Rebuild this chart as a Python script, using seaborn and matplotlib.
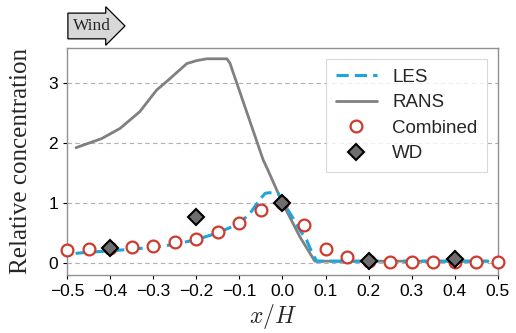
import numpy as np
import pandas as pd
import matplotlib
matplotlib.use("Agg")
import matplotlib.pyplot as plt
import seaborn as sns

# ---- data ----
les_x = [-0.48, -0.45, -0.40, -0.35, -0.30, -0.25, -0.20, -0.15, -0.10, -0.075, -0.05,
         -0.04, -0.03, -0.01, 0.00, 0.02, 0.04, 0.056, 0.071, 0.08, 0.10, 0.20, 0.30, 0.40, 0.48]
les_y = [0.16, 0.18, 0.20, 0.23, 0.26, 0.31, 0.39, 0.50, 0.66, 0.83, 1.08,
         1.16, 1.17, 1.16, 1.02, 0.80, 0.55, 0.38, 0.13, 0.03, 0.03, 0.03, 0.03, 0.03, 0.03]

rans_x = [-0.479, -0.42, -0.377, -0.331, -0.292, -0.269, -0.222, -0.199, -0.176, -0.129,
          -0.122, -0.045, -0.034, 0.00, 0.04, 0.075, 0.20, 0.30, 0.40, 0.477]
rans_y = [1.92, 2.07, 2.24, 2.52, 2.88, 3.02, 3.32, 3.37, 3.40, 3.40,
          3.33, 1.72, 1.55, 1.00, 0.44, 0.03, 0.03, 0.03, 0.03, 0.03]

comb_x = [-0.50, -0.45, -0.40, -0.35, -0.30, -0.25, -0.20, -0.15, -0.10, -0.05, 0.00,
          0.05, 0.10, 0.15, 0.20, 0.25, 0.30, 0.35, 0.40, 0.45, 0.50]
comb_y = [0.22, 0.23, 0.25, 0.26, 0.29, 0.35, 0.40, 0.51, 0.66, 0.88, 1.00,
          0.64, 0.23, 0.10, 0.03, 0.01, 0.01, 0.01, 0.01, 0.01, 0.01]

wd_x = [-0.4, -0.2, 0.0, 0.2, 0.4]
wd_y = [0.25, 0.77, 1.00, 0.04, 0.07]

xticks = [-0.5, -0.4, -0.3, -0.2, -0.1, 0.0, 0.1, 0.2, 0.3, 0.4, 0.5]
yticks = [0, 1, 2, 3]

# ---- style ----
sns.set_style("ticks")
plt.rcParams["font.family"] = ["Liberation Sans", "DejaVu Sans"]
plt.rcParams["mathtext.fontset"] = "cm"

fig = plt.figure(figsize=(5.16, 3.33), dpi=100)
ax = fig.add_axes([0.1298, 0.1742, 0.9651 - 0.1298, 0.8559 - 0.1742])

les_df = pd.DataFrame({"x": les_x, "y": les_y})
rans_df = pd.DataFrame({"x": rans_x, "y": rans_y})
comb_df = pd.DataFrame({"x": comb_x, "y": comb_y})
wd_df = pd.DataFrame({"x": wd_x, "y": wd_y})

sns.lineplot(data=les_df, x="x", y="y", ax=ax, color="#1ea6dc", lw=2.2,
             linestyle=(0, (4, 2)), label="LES", zorder=3, sort=False)
sns.lineplot(data=rans_df, x="x", y="y", ax=ax, color="#808080", lw=2.0,
             label="RANS", zorder=2, sort=False)
ax.plot(comb_df["x"], comb_df["y"], ls="none", marker="o", ms=8.5, mfc="white",
        mec="#cc3b2e", mew=1.6, label="Combined", zorder=4, clip_on=False)
ax.plot(wd_df["x"], wd_df["y"], ls="none", marker="D", ms=8, mfc="#6e6e6e",
        mec="black", mew=1.5, label="WD", zorder=5)

ax.set_xlim(-0.5, 0.5)
ax.set_ylim(-0.2, 3.58)
ax.set_xticks(xticks)
ax.set_xticklabels([f"{t:.1f}".replace("-", "\u2212") for t in xticks])
ax.set_yticks(yticks)
ax.tick_params(axis="both", labelsize=12.5, colors="black", length=3, width=0.8)
for t in ax.get_xticklines() + ax.get_yticklines():
    t.set_color("#888888")
ax.yaxis.grid(True, linestyle=(0, (4, 3)), color="#b0b0b0", lw=0.8)
for s in ax.spines.values():
    s.set_color("#909090")
    s.set_linewidth(1.0)

ax.set_xlabel("$x/H$", fontsize=17)
ax.xaxis.set_label_coords(0.478, -0.12)
ax.set_ylabel("Relative concentration", fontsize=18, family="Liberation Serif")
ax.yaxis.set_label_coords(-0.08, 0.5)

leg = ax.legend(loc="upper right", fontsize=13.5, frameon=True, fancybox=False,
                edgecolor="#d0d0d0", borderaxespad=0.6, handlelength=2.2,
                labelspacing=0.45, borderpad=0.5)
leg.get_frame().set_linewidth(0.8)

fig.text(0.141, 0.922, "Wind", fontsize=12.5, family="Liberation Serif",
         ha="left", va="center",
         bbox=dict(boxstyle="rarrow,pad=0.28", fc="#d8d8d8", ec="black", lw=0.9))

fig.savefig("out.png", dpi=100)
